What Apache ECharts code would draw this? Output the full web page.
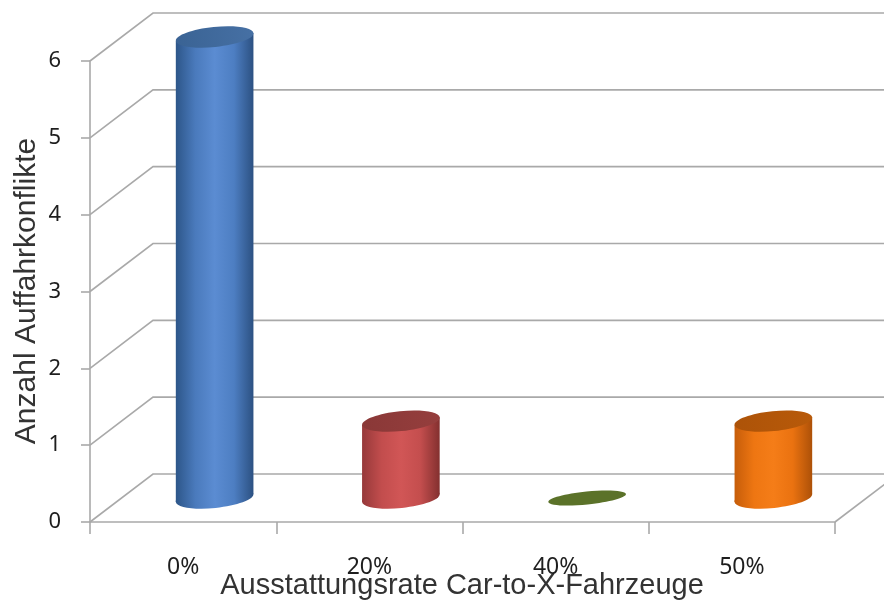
<!DOCTYPE html>
<html>
<head>
<meta charset="utf-8">
<title>Anzahl Auffahrkonflikte</title>
<script src="https://cdn.jsdelivr.net/npm/echarts@6/dist/echarts.min.js"></script>
<style>
  html, body { margin: 0; padding: 0; background: #ffffff; }
  #chart { width: 884px; height: 609px; }
</style>
</head>
<body>
<div id="chart"></div>
<script>
// Auffahrkonflikte je Ausstattungsrate
const categories = ['0%', '20%', '40%', '50%'];
const conflicts = [6, 1, 0, 1];
const yTicks = [0, 1, 2, 3, 4, 5, 6];

// pseudo-3D depth offset of the back wall (px)
const DX = 63;
const DY = -48;

const GRID_COLOR = '#a9a9a9';

const barStyles = [
  { side: ['#2d5689', '#4a7abc', '#5b8cd2', '#4d7ec2', '#2c5182'], top: ['#3a6394', '#4670a4'] },
  { side: ['#96393a', '#c24d4d', '#d15656', '#c44e4e', '#83302f'], top: ['#8a3837', '#953e3d'] },
  { side: ['#5b7229', '#5b7229', '#5b7229', '#5b7229', '#5b7229'], top: ['#5b7229', '#5b7229'] },
  { side: ['#c65d0a', '#ee7612', '#f57d18', '#ea7210', '#ad5108'], top: ['#ad5308', '#b85a0a'] }
];

function hGradient(stops) {
  const n = stops.length - 1;
  return new echarts.graphic.LinearGradient(0, 0, 1, 0,
    stops.map((c, i) => ({ offset: i / n, color: c })));
}

// back wall gridlines with their receding diagonals, plus the floor edge
function renderWall(params, api) {
  const cs = params.coordSys;
  const v = api.value(1);
  const y = api.coord([0, v])[1];
  const right = cs.x + cs.width;
  const children = [{
    type: 'polyline',
    shape: { points: [[cs.x, y], [cs.x + DX, y + DY], [right + DX + 80, y + DY]] },
    style: { stroke: GRID_COLOR, lineWidth: 1.6, fill: null }
  }];
  if (v === 0) {
    children.push({
      type: 'line',
      shape: { x1: right, y1: y, x2: right + DX, y2: y + DY },
      style: { stroke: GRID_COLOR, lineWidth: 1.6 }
    });
  }
  return { type: 'group', children: children };
}

// cylinder standing at mid depth of the category slot
function renderCylinder(params, api) {
  const i = api.value(0);
  const v = api.value(1);
  const base = api.coord([i, 0]);
  const topP = api.coord([i, v]);
  const st = barStyles[i];
  const cx = base[0] + DX / 2;
  const by = base[1] + DY / 2;
  const ty = topP[1] + DY / 2;
  const rx = 39;
  const tilt = 0.1;
  if (v === 0) {
    return {
      type: 'ellipse',
      shape: { cx: cx, cy: by, rx: rx, ry: 6.5 },
      rotation: tilt,
      originX: cx, originY: by,
      style: { fill: st.top[0] }
    };
  }
  const ry = 10;
  const ex = rx * Math.cos(tilt);
  const ey = rx * Math.sin(tilt);
  return {
    type: 'group',
    children: [
      {
        type: 'ellipse',
        shape: { cx: cx, cy: by, rx: rx, ry: ry },
        rotation: tilt, originX: cx, originY: by,
        style: { fill: hGradient(st.side) }
      },
      {
        type: 'polygon',
        shape: { points: [[cx - ex, ty + ey], [cx + ex, ty - ey], [cx + ex, by - ey], [cx - ex, by + ey]] },
        style: { fill: hGradient(st.side) }
      },
      {
        type: 'ellipse',
        shape: { cx: cx, cy: ty, rx: rx, ry: ry },
        rotation: tilt, originX: cx, originY: ty,
        style: { fill: hGradient(st.top) }
      }
    ]
  };
}

const chart = echarts.init(document.getElementById('chart'), null, { renderer: 'canvas' });

chart.setOption({
  backgroundColor: '#ffffff',
  animation: false,
  grid: { left: 90, top: 61, width: 745, height: 461 },
  xAxis: {
    type: 'category',
    data: categories,
    boundaryGap: true,
    axisLine: { show: true, lineStyle: { color: GRID_COLOR, width: 1.6 } },
    axisTick: { show: true, length: 12, lineStyle: { color: GRID_COLOR, width: 1.6 } },
    axisLabel: { margin: 34, color: '#1e1e1e', fontFamily: 'Noto Sans', fontSize: 23 },
    splitLine: { show: false }
  },
  yAxis: {
    type: 'value',
    min: 0,
    max: 6,
    interval: 1,
    axisLine: { show: true, lineStyle: { color: GRID_COLOR, width: 1.6 } },
    axisTick: { show: true, length: 9, lineStyle: { color: GRID_COLOR, width: 1.6 } },
    axisLabel: { margin: 29, color: '#1e1e1e', fontFamily: 'Noto Sans', fontSize: 22 },
    splitLine: { show: false }
  },
  graphic: [
    {
      type: 'text',
      x: 27, y: 291,
      rotation: Math.PI / 2,
      style: {
        text: 'Anzahl Auffahrkonflikte',
        fill: '#333333',
        font: '30px "Liberation Sans", Arial, sans-serif',
        align: 'center',
        verticalAlign: 'middle'
      }
    },
    {
      type: 'text',
      x: 462, y: 586,
      style: {
        text: 'Ausstattungsrate Car-to-X-Fahrzeuge',
        fill: '#333333',
        font: '29px "Liberation Sans", Arial, sans-serif',
        align: 'center',
        verticalAlign: 'middle'
      }
    }
  ],
  series: [
    {
      type: 'custom',
      name: 'wall',
      silent: true,
      z: 1,
      renderItem: renderWall,
      data: yTicks.map(v => [0, v])
    },
    {
      type: 'custom',
      name: 'Auffahrkonflikte',
      z: 3,
      renderItem: renderCylinder,
      data: conflicts.map((v, i) => [i, v])
    }
  ]
});
</script>
</body>
</html>
